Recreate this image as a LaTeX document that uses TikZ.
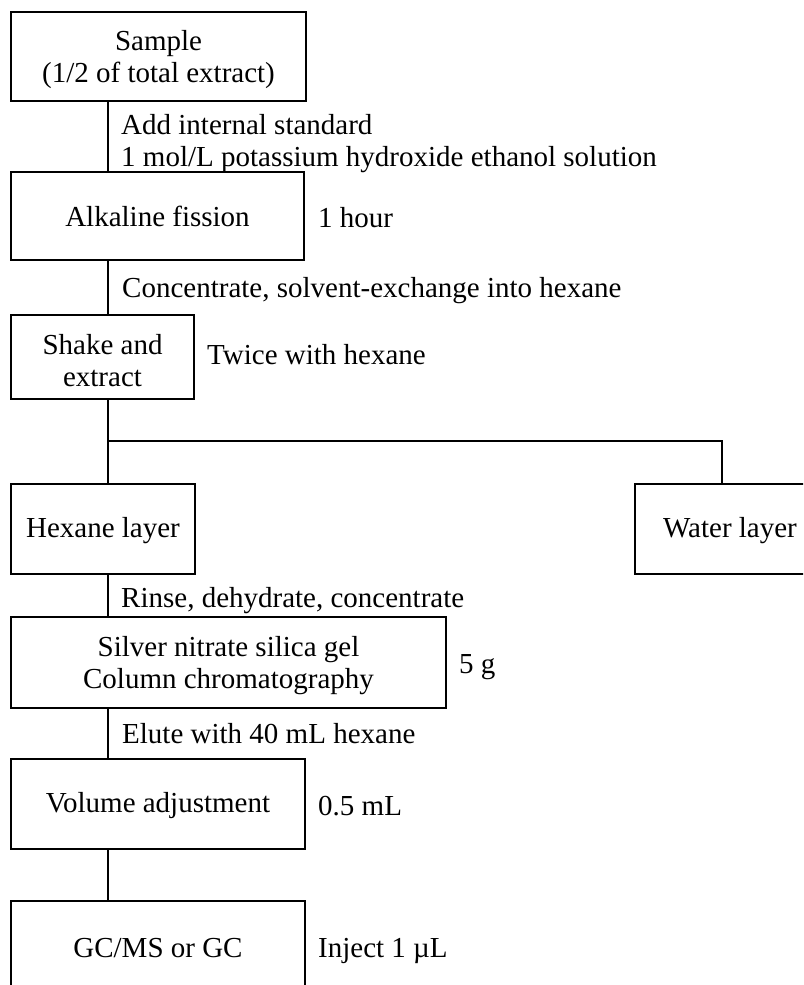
\documentclass[tikz,border=0pt]{standalone}
\usepackage{fontspec}
\setmainfont{Liberation Serif}
\newcommand\dnA{\rule{0pt}{24pt}}
\newcommand\dnB{\rule{0pt}{27pt}}
\begin{document}
\begin{tikzpicture}[x=1pt,y=-1pt,
  txt/.style={font=\fontsize{29}{32}\selectfont},
  box/.style={txt,draw,line width=2pt,rectangle,inner sep=0pt,align=center,anchor=north west},
  lbl/.style={txt,inner sep=0pt,anchor=base west,align=left},
  conn/.style={line width=2pt}]
\clip (0,0) rectangle (803,985);
\fill[white] (0,0) rectangle (803,985);
% boxes
\node[box,minimum width=295pt,minimum height=89pt] (sample) at (10,11) {\dnB Sample\\(1/2 of total extract)};
\node[box,minimum width=293pt,minimum height=88pt] (alk) at (10,171) {Alkaline fission};
\node[box,minimum width=183pt,minimum height=84pt] (shake) at (10,314) {\dnB Shake and\\extract};
\node[box,minimum width=184pt,minimum height=90pt] (hexane) at (10,483) {\dnA Hexane layer};
\node[box,minimum width=190pt,minimum height=90pt] (water) at (634,483) {\dnA Water layer};
\node[box,minimum width=435pt,minimum height=91pt] (silver) at (10,616) {\dnB Silver nitrate silica gel\\Column chromatography};
\node[box,minimum width=294pt,minimum height=90pt] (volume) at (10,758) {\dnA Volume adjustment};
\node[box,minimum width=294pt,minimum height=94pt] (gc) at (10,900) {GC/MS or GC};
% labels
\node[txt,inner sep=0pt,anchor=west,align=left] (l1) at (121,144) {Add internal standard\\1 mol/L potassium hydroxide ethanol solution};
\node[lbl] (l2) at (318,227) {1 hour};
\node[lbl] (l3) at (122,297) {Concentrate, solvent-exchange into hexane};
\node[lbl] (l4) at (207,364) {Twice with hexane};
\node[lbl] (l5) at (121,607) {Rinse, dehydrate, concentrate};
\node[lbl] (l6) at (459,673) {5 g};
\node[lbl] (l7) at (122,743) {Elute with 40 mL hexane};
\node[lbl] (l8) at (318,815) {0.5 mL};
\node[lbl] (l9) at (318,957) {Inject 1 µL};
% connectors
\coordinate (cx) at (108,0);
\coordinate (wx) at (722,0);
\coordinate (br) at (108,441);
\draw[conn] (cx |- sample.south) -- (cx |- alk.north);
\draw[conn] (cx |- alk.south) -- (cx |- shake.north);
\draw[conn] (cx |- shake.south) -- (cx |- hexane.north);
\draw[conn] (br) -| (wx |- water.north);
\draw[conn] (cx |- hexane.south) -- (cx |- silver.north);
\draw[conn] (cx |- silver.south) -- (cx |- volume.north);
\draw[conn] (cx |- volume.south) -- (cx |- gc.north);
\end{tikzpicture}
\end{document}
